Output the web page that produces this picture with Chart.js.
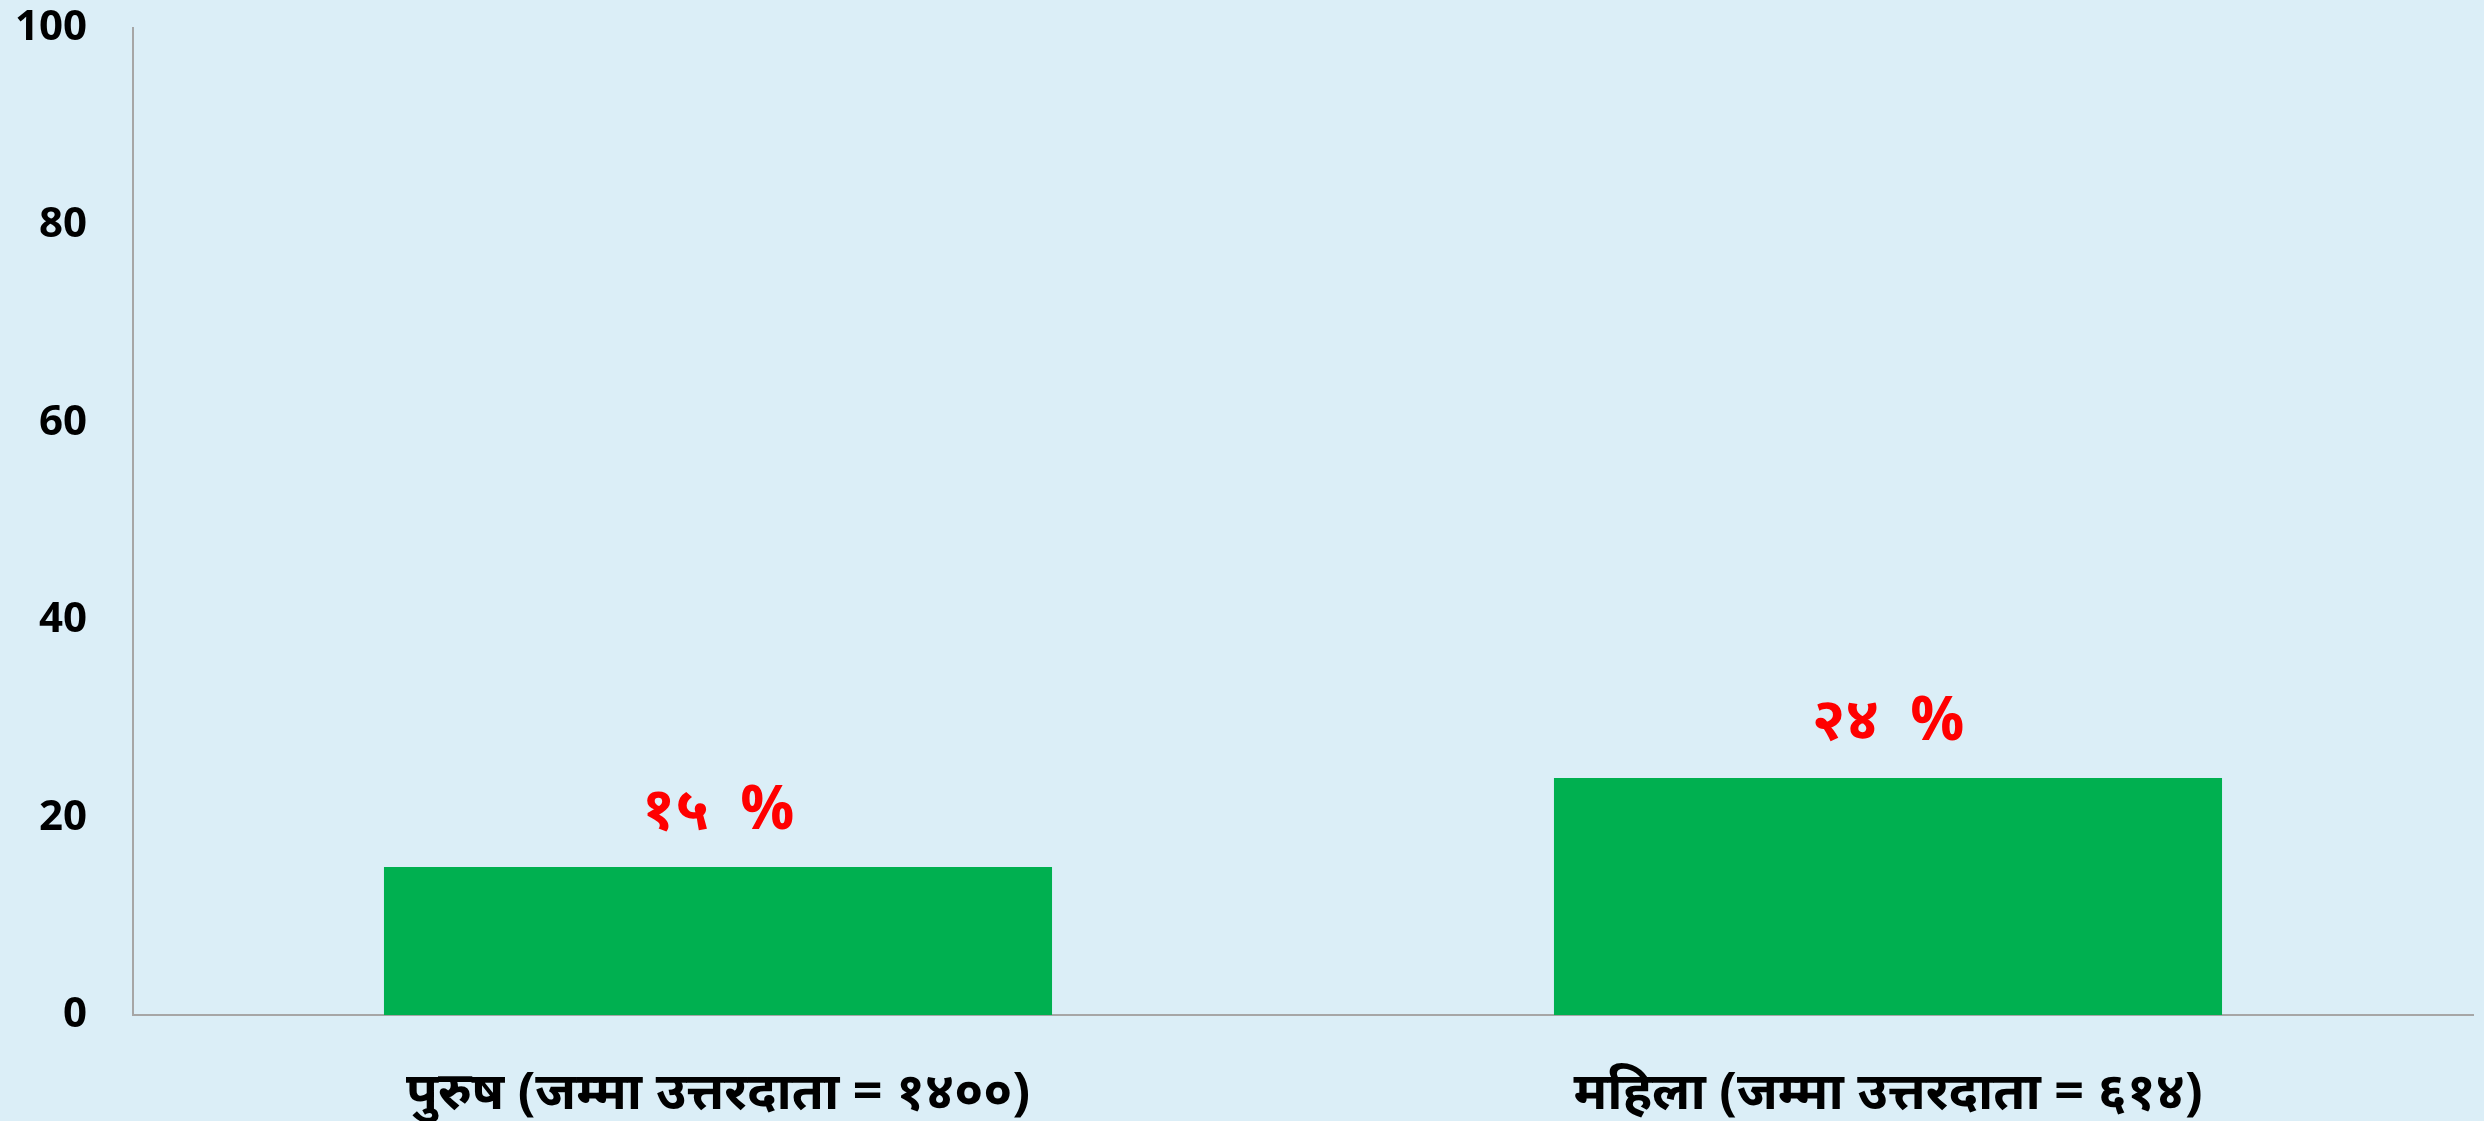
<!DOCTYPE html>
<html>
<head>
<meta charset="utf-8">
<script src="https://cdn.jsdelivr.net/npm/chart.js@4"></script>
<style>
  html, body { margin: 0; padding: 0; background: #DBEEF7; }
  #wrap { width: 2484px; height: 1121px; }
</style>
</head>
<body>
<div id="wrap"><canvas id="myChart" width="2484" height="1121"></canvas></div>
<script>
const categories = ['पुरुष (जम्मा उत्तरदाता = १४००)', 'महिला (जम्मा उत्तरदाता = ६१४)'];
const values = [15, 24];
const valueLabels = ['१५  %', '२४  %'];
const yTicks = [0, 20, 40, 60, 80, 100];

const fontFamily = "'Open Sans', 'Noto Sans', 'DejaVu Sans', sans-serif";

// draw the red labels above each bar
const barLabels = {
    id: 'barLabels',
    afterDatasetsDraw(chart) {
        const ctx = chart.ctx;
        const meta = chart.getDatasetMeta(0);
        ctx.save();
        ctx.fillStyle = '#FF0000';
        ctx.font = 'bold 60px ' + fontFamily;
        ctx.textAlign = 'center';
        ctx.textBaseline = 'middle';
        meta.data.forEach((bar, i) => {
            ctx.fillText(valueLabels[i], bar.x, bar.y - 55);
        });
        ctx.restore();
    }
};

const ctx = document.getElementById('myChart').getContext('2d');
const myChart = new Chart(ctx, {
    type: 'bar',
    data: {
        labels: categories,
        datasets: [{
            data: values,
            backgroundColor: '#00B050',
            borderWidth: 0,
            categoryPercentage: 0.571,
            barPercentage: 1.0
        }]
    },
    options: {
        responsive: false,
        animation: false,
        layout: { padding: { left: 0, top: 28, right: 11, bottom: 0 } },
        plugins: {
            legend: { display: false },
            tooltip: { enabled: false }
        },
        scales: {
            x: {
                grid: { display: false },
                border: { display: true, color: '#A6A6A6', width: 2 },
                ticks: {
                    color: '#000',
                    font: { family: fontFamily, size: 52, weight: 'bold' },
                    padding: 40,
                    maxRotation: 0
                },
                afterFit(scale) {
                    scale.height = 106;
                    scale.paddingLeft = 0;
                    scale.paddingRight = 0;
                }
            },
            y: {
                min: 0,
                max: 100,
                afterBuildTicks(scale) {
                    scale.ticks = yTicks.map(v => ({ value: v }));
                },
                grid: { display: false },
                border: { display: true, color: '#A6A6A6', width: 2 },
                ticks: {
                    color: '#000',
                    font: { family: fontFamily, size: 42, weight: 'bold' },
                    padding: 38
                },
                afterFit(scale) {
                    scale.width = 133;
                    scale.paddingTop = 0;
                    scale.paddingBottom = 0;
                }
            }
        }
    },
    plugins: [barLabels]
});
</script>
</body>
</html>
